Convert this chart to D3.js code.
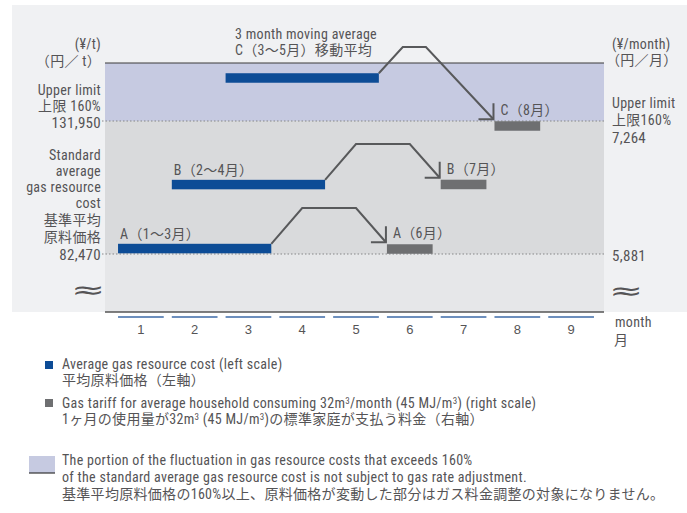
<!DOCTYPE html>
<html>
<head>
<meta charset="utf-8">
<script src="https://cdn.jsdelivr.net/npm/d3@7"></script>
<style>
  body { margin: 0; background: #fff; }
  svg text { font-family: "Liberation Sans Narrow", "Roboto Condensed", "Noto Sans CJK JP", sans-serif; fill: #555456; font-size: 14px; letter-spacing: 0.3px; }
  .jp { font-family: "Noto Sans CJK JP", sans-serif; }
</style>
</head>
<body>
<div id="chart"></div>
<script>
// Months on the x axis
const months = [1, 2, 3, 4, 5, 6, 7, 8, 9];

// Average gas resource cost (left scale, ¥/t): 3 month moving averages
const costLabels = ["A（1～3月）", "B（2～4月）", "C（3～5月）"];
const costFrom = [1, 2, 3];
const costTo = [3, 4, 5];
const costValues = [84500, 108300, 147950];

// Gas tariff (right scale, ¥/month)
const tariffLabels = ["A（6月）", "B（7月）", "C（8月）"];
const tariffMonths = [6, 7, 8];
const tariffValues = [5933, 6604, 7212];

// Arrow plateau between cost bar and tariff bar (month position, left scale value)
const peakFrom = [4, 5, 5.87];
const peakTo = [5, 6, 6.3];
const peakValues = [99580, 123390, 159480];

// Reference levels
const leftLevels = [82470, 131950];
const rightLevels = [5881, 7264];

const W = 687, H = 513;
const plot = { left: 105, right: 604, top: 63, bottom: 312 };

const svg = d3.select("#chart").append("svg")
    .attr("width", W)
    .attr("height", H);

svg.append("rect").attr("width", W).attr("height", H).attr("fill", "#fff");

// Scales
const x = d3.scaleBand()
    .domain(months)
    .range([114, 598])
    .paddingInner(0.15)
    .paddingOuter(0.075);
const bw = x.bandwidth();
const xm = d3.scaleLinear()
    .domain([1, 9])
    .range([x(1) + bw / 2, x(9) + bw / 2]);
const yL = d3.scaleLinear().domain(leftLevels).range([254, 121]);
const yR = d3.scaleLinear().domain(rightLevels).range([254, 121]);

// Backgrounds
svg.append("rect")
    .attr("x", 12).attr("y", 5)
    .attr("width", W - 12).attr("height", plot.bottom - 5)
    .attr("fill", "#f0f1f3");
svg.append("rect")
    .attr("x", plot.left).attr("y", yL(leftLevels[0]))
    .attr("width", plot.right - plot.left).attr("height", plot.bottom - yL(leftLevels[0]))
    .attr("fill", "#e6e7e9");
svg.append("rect")
    .attr("x", plot.left).attr("y", yL(leftLevels[1]))
    .attr("width", plot.right - plot.left).attr("height", yL(leftLevels[0]) - yL(leftLevels[1]))
    .attr("fill", "#d9dadc");
svg.append("rect")
    .attr("x", plot.left).attr("y", plot.top)
    .attr("width", plot.right - plot.left).attr("height", yL(leftLevels[1]) - plot.top)
    .attr("fill", "#c6cae1");
svg.append("line")
    .attr("x1", plot.left).attr("x2", plot.right)
    .attr("y1", plot.top).attr("y2", plot.top)
    .attr("stroke", "#3a3a3a").attr("stroke-width", 1.2);

// Dotted reference lines
svg.selectAll(".ref")
    .data(leftLevels)
    .enter()
    .append("line")
    .attr("x1", 102).attr("x2", plot.right)
    .attr("y1", d => yL(d)).attr("y2", d => yL(d))
    .attr("stroke", "#858688")
    .attr("stroke-width", 1)
    .attr("stroke-dasharray", "1.5,2");

// X axis
svg.append("line")
    .attr("x1", plot.left).attr("x2", plot.right)
    .attr("y1", plot.bottom).attr("y2", plot.bottom)
    .attr("stroke", "#555").attr("stroke-width", 1.5);

const axis = svg.append("g")
    .attr("transform", `translate(0, ${plot.bottom + 5})`)
    .call(d3.axisBottom(x).tickSize(0).tickPadding(8));
axis.select(".domain").remove();
axis.selectAll("text")
    .style("font-size", "13px")
    .style("letter-spacing", "0px")
    .style("font-family", "'Liberation Sans', sans-serif")
    .attr("fill", "#555");
axis.selectAll(".tick").append("line")
    .attr("x1", -bw / 2).attr("x2", bw / 2)
    .attr("stroke", "#3c6aa7").attr("stroke-width", 1.5);

svg.append("text").attr("x", 615).attr("y", 327).text("month");
svg.append("text").attr("class", "jp").attr("x", 614).attr("y", 345).text("月");

// Average cost bars
const costs = costValues.map((v, i) => ({ label: costLabels[i], from: costFrom[i], to: costTo[i], value: v }));
const tariffs = tariffValues.map((v, i) => ({ label: tariffLabels[i], month: tariffMonths[i], value: v }));
const barH = 9.5;

svg.selectAll(".cost")
    .data(costs)
    .enter()
    .append("rect")
    .attr("class", "cost")
    .attr("x", d => x(d.from))
    .attr("y", d => yL(d.value) - barH / 2)
    .attr("width", d => x(d.to) + bw - x(d.from))
    .attr("height", barH)
    .attr("fill", "#0d4c96");

svg.selectAll(".tariff")
    .data(tariffs)
    .enter()
    .append("rect")
    .attr("class", "tariff")
    .attr("x", d => x(d.month))
    .attr("y", d => yR(d.value) - barH / 2)
    .attr("width", bw)
    .attr("height", barH)
    .attr("fill", "#6e6f71");

// Bar labels
svg.selectAll(".costLabel")
    .data(costs.slice(0, 2))
    .enter()
    .append("text")
    .attr("x", d => x(d.from) + 2)
    .attr("y", d => yL(d.value) - barH / 2 - 5)
    .text(d => d.label);

svg.selectAll(".tariffLabel")
    .data(tariffs)
    .enter()
    .append("text")
    .attr("x", d => x(d.month) + 6)
    .attr("y", d => yR(d.value) - barH / 2 - 6)
    .text(d => d.label);

svg.append("text").attr("x", 235).attr("y", 39).text("3 month moving average");
svg.append("text").attr("x", 235).attr("y", 55).text(costLabels[2] + "移動平均");

// Arrows from cost bars to tariff bars
const arrowColor = "#58595b";
costs.forEach((c, i) => {
    const t = tariffs[i];
    const sx = x(c.to) + bw, sy = yL(c.value) - barH / 2;
    const tx = x(t.month) - 1, ty = yR(t.value) - barH / 2 - 2;
    const pts = [[sx, sy], [xm(peakFrom[i]), yL(peakValues[i])], [xm(peakTo[i]), yL(peakValues[i])], [tx, ty]];
    svg.append("path")
        .attr("d", d3.line()(pts))
        .attr("fill", "none")
        .attr("stroke", arrowColor)
        .attr("stroke-width", 2);
    svg.append("path")
        .attr("d", `M${tx},${ty - 16}V${ty}H${tx - 15}`)
        .attr("fill", "none")
        .attr("stroke", arrowColor)
        .attr("stroke-width", 2);
});

// Left scale labels
const leftText = [
    ["(¥/t)", 49], ["（円／ t）", 66], ["Upper limit", 95], ["上限 160%", 111], ["131,950", 128],
    ["Standard", 160], ["average", 176], ["gas resource", 192], ["cost", 208],
    ["基準平均", 225], ["原料価格", 242], ["82,470", 260]
];
const isNum = s => /^[0-9,]+$/.test(s);
svg.selectAll(".ltxt")
    .data(leftText)
    .enter()
    .append("text")
    .attr("x", 101)
    .attr("y", d => d[1])
    .attr("text-anchor", "end")
    .style("font-size", d => isNum(d[0]) ? "15px" : null)
    .text(d => d[0]);

const rightText = [
    ["(¥/month)", 49], ["（円／月）", 65], ["Upper limit", 108], ["上限160%", 125], ["7,264", 143], ["5,881", 261]
];
svg.selectAll(".rtxt")
    .data(rightText)
    .enter()
    .append("text")
    .attr("x", d => d[0].startsWith("（") ? 606 : 612)
    .attr("y", d => d[1])
    .style("font-size", d => isNum(d[0]) ? "15px" : null)
    .text(d => d[0]);

// Break marks
[[88, 298], [626, 299]].forEach(p => {
    svg.append("text")
        .attr("transform", `translate(${p[0]},${p[1]}) scale(1.7,1)`)
        .attr("text-anchor", "middle")
        .style("font-size", "24px")
        .style("letter-spacing", "0px")
        .style("font-family", "'DejaVu Sans', sans-serif")
        .text("≈");
});

// Legend
svg.append("rect").attr("x", 45).attr("y", 361).attr("width", 8).attr("height", 8).attr("fill", "#0d4c96");
svg.append("text").attr("x", 62).attr("y", 369).text("Average gas resource cost (left scale)");
svg.append("text").attr("x", 62).attr("y", 385).text("平均原料価格（左軸）");

svg.append("rect").attr("x", 45).attr("y", 399).attr("width", 8).attr("height", 8).attr("fill", "#6e6f71");
const g1 = svg.append("text").attr("x", 62).attr("y", 408);
g1.append("tspan").text("Gas tariff for average household consuming 32m");
g1.append("tspan").style("font-size", "9px").attr("dy", -4).text("3");
g1.append("tspan").attr("dy", 4).text("/month (45 MJ/m");
g1.append("tspan").style("font-size", "9px").attr("dy", -4).text("3");
g1.append("tspan").attr("dy", 4).text(") (right scale)");
const g2 = svg.append("text").attr("x", 62).attr("y", 424);
g2.append("tspan").text("1ヶ月の使用量が32m");
g2.append("tspan").style("font-size", "9px").attr("dy", -4).text("3");
g2.append("tspan").attr("dy", 4).text(" (45 MJ/m");
g2.append("tspan").style("font-size", "9px").attr("dy", -4).text("3");
g2.append("tspan").attr("dy", 4).text(")の標準家庭が支払う料金（右軸）");

svg.append("rect").attr("x", 29).attr("y", 456).attr("width", 26).attr("height", 17).attr("fill", "#c6cae1");
svg.append("line").attr("x1", 29).attr("x2", 55).attr("y1", 473).attr("y2", 473).attr("stroke", "#333").attr("stroke-width", 1.2);
svg.append("text").attr("x", 62).attr("y", 465)
    .text("The portion of the fluctuation in gas resource costs that exceeds 160%");
svg.append("text").attr("x", 62).attr("y", 482)
    .text("of the standard average gas resource cost is not subject to gas rate adjustment.");
svg.append("text").attr("x", 62).attr("y", 499)
    .text("基準平均原料価格の160%以上、原料価格が変動した部分はガス料金調整の対象になりません。");
</script>
</body>
</html>
